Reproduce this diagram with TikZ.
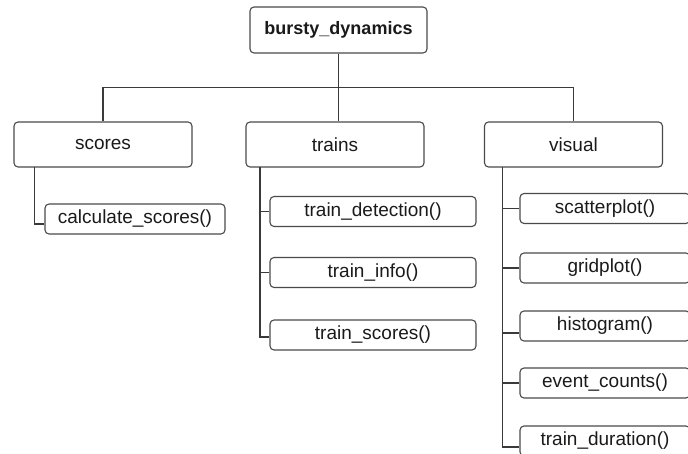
\documentclass[tikz,border=0pt]{standalone}
\usepackage{fontspec}
\setmainfont{Liberation Sans}
\definecolor{linegray}{HTML}{3A3A3A}
\definecolor{boxgray}{HTML}{4A4A4A}
\definecolor{textblack}{HTML}{1A1A1A}
\begin{document}
\begin{tikzpicture}[
    x=1pt, y=-1pt,
    module/.style={rectangle, draw=boxgray, line width=1.1pt, rounded corners=4pt, minimum width=178pt, minimum height=45pt, inner sep=0pt, text=textblack, font=\fontsize{19}{22}\selectfont},
    root/.style={module, minimum width=177pt, minimum height=46pt, font=\fontsize{18}{22}\selectfont\bfseries},
    func/.style={module, minimum height=30pt},
    branch/.style={draw=linegray, line width=1.7pt},
    leaf line/.style={draw=linegray, line width=1.1pt}
]
\useasboundingbox (0,0) rectangle (688,454);

% Root node
\node[root] (root) at (338.5,30) {bursty\_dynamics};

% Module nodes
\node[module] (scores) at (103,144.5) {scores};
\node[module] (trains) at (335,144.5) {trains};
\node[module] (visual) at (573.5,144.5) {visual};

% Function nodes (scores)
\node[func, minimum width=180pt] (calc) at (135,219) {calculate\_scores()};

% Function nodes (trains)
\node[func, minimum width=206pt] (tdetect) at (373,211.5) {train\_detection()};
\node[func, minimum width=206pt] (tinfo) at (373,272.5) {train\_info()};
\node[func, minimum width=206pt] (tscores) at (373,335) {train\_scores()};

% Function nodes (visual)
\node[func, minimum width=170pt] (scatter) at (605,208.5) {scatterplot()};
\node[func, minimum width=170pt] (grid) at (605,268) {gridplot()};
\node[func, minimum width=170pt] (hist) at (605,326) {histogram()};
\node[func, minimum width=170pt] (events) at (605,383) {event\_counts()};
\node[func, minimum width=170pt] (tdur) at (605,441) {train\_duration()};

% Connections from root to modules
\draw[branch] (root.south) -- ++(0,34) coordinate (bus);
\draw[branch] (scores.north) |- (bus) -| (visual.north);
\draw[branch] (bus) -- (bus |- trains.north);

% Connections from modules to functions
\coordinate (sline) at (34.5,167);
\coordinate (tline) at (260,167);
\coordinate (vline) at (502.5,167);

\draw[leaf line] (sline) |- ([yshift=-5pt]calc.west);

\draw[leaf line] (tline) |- ([yshift=-2pt]tscores.west);
\draw[leaf line] (tdetect.west) -- (tdetect.west -| tline);
\draw[leaf line] (tinfo.west) -- (tinfo.west -| tline);

\draw[leaf line] (vline) |- ([yshift=-6pt]tdur.west);
\draw[leaf line] (scatter.west) -- (scatter.west -| vline);
\draw[leaf line] (grid.west) -- (grid.west -| vline);
\draw[leaf line] ([yshift=-7pt]hist.west) -- ([yshift=-7pt]hist.west -| vline);
\draw[leaf line] (events.west) -- (events.west -| vline);
\end{tikzpicture}
\end{document}
